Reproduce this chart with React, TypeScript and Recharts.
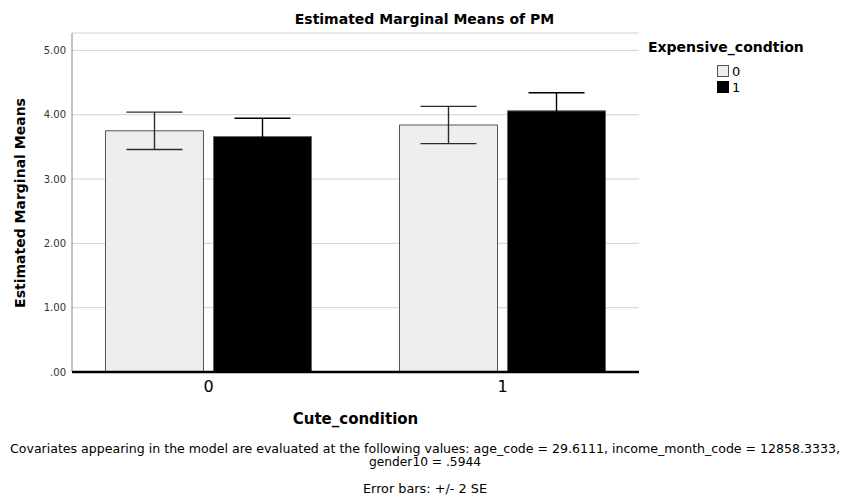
import { BarChart, Bar, XAxis, YAxis, CartesianGrid, ErrorBar } from "recharts"

const categories = ["0", "1"]
const expensive0 = [3.75, 3.84]
const expensive1 = [3.66, 4.06]
// error bars: +/- 2 SE
const err0 = [0.29, 0.29]
const err1 = [0.285, 0.28]
const yTicks = [0, 1, 2, 3, 4, 5]

const data = categories.map((c, i) => ({
    cute: c,
    e0: expensive0[i],
    e1: expensive1[i],
    err0: err0[i],
    err1: err1[i],
}))

const boldFont = "'DejaVu Sans', sans-serif"
const narrowFont = "'Liberation Sans Narrow', 'DejaVu Sans Condensed', 'Liberation Sans', sans-serif"

export default function App() {
    return (
        <div style={{ position: "absolute", left: 0, top: 0, width: 842, height: 496, background: "#fff" }}>
            <BarChart
                width={842}
                height={496}
                data={data}
                margin={{ top: 33, right: 203, bottom: 94, left: 12 }}
                barSize={98}
                barGap={10}
            >
                <CartesianGrid vertical={false} stroke="#d2d2d2" strokeWidth={1} />
                <YAxis
                    width={60}
                    domain={[0, 5.27]}
                    ticks={yTicks}
                    interval={0}
                    tickFormatter={(v: number) => (v === 0 ? ".00" : v.toFixed(2))}
                    tick={{ fontSize: 10, fill: "#333", fontFamily: boldFont }}
                    tickLine={false}
                    tickSize={0}
                    tickMargin={6}
                    axisLine={{ stroke: "#888", strokeWidth: 1 }}
                />
                <XAxis
                    dataKey="cute"
                    height={30}
                    padding={{ left: -10.5, right: -10.5 }}
                    tick={{ fontSize: 16, fill: "#000", fontFamily: boldFont }}
                    tickLine={false}
                    tickSize={0}
                    tickMargin={9}
                    axisLine={{ stroke: "#000", strokeWidth: 2.5 }}
                />
                <Bar dataKey="e0" fill="#eeeeee" stroke="#555" strokeWidth={1} isAnimationActive={false}>
                    <ErrorBar dataKey="err0" width={28} stroke="#2a2a2a" strokeWidth={1.4} direction="y" isAnimationActive={false} />
                </Bar>
                <Bar dataKey="e1" fill="#000" stroke="#666" strokeWidth={1} isAnimationActive={false}>
                    <ErrorBar dataKey="err1" width={28} stroke="#000" strokeWidth={1.4} direction="y" isAnimationActive={false} />
                </Bar>
            </BarChart>

            {/* titles, legend and notes */}
            <svg width={842} height={496} style={{ position: "absolute", left: 0, top: 0, pointerEvents: "none" }}>
                <text x={424.5} y={24} textAnchor="middle" fontFamily={boldFont} fontWeight="bold" fontSize={14} fill="#000">
                    Estimated Marginal Means of PM
                </text>
                <text
                    transform="translate(25,203) rotate(-90)"
                    textAnchor="middle"
                    fontFamily={boldFont}
                    fontWeight="bold"
                    fontSize={14}
                    fill="#000"
                >
                    Estimated Marginal Means
                </text>
                <text x={355.5} y={424} textAnchor="middle" fontFamily={boldFont} fontWeight="bold" fontSize={15} fill="#000">
                    Cute_condition
                </text>

                <text x={648} y={52} fontFamily={boldFont} fontWeight="bold" fontSize={14} fill="#000">
                    Expensive_condtion
                </text>
                <rect x={717.5} y={65.5} width={11} height={11} fill="#eeeeee" stroke="#555" strokeWidth={1} />
                <text x={732} y={76} fontFamily={boldFont} fontSize={13} fill="#000">0</text>
                <rect x={717} y={81} width={12} height={12} fill="#000" />
                <text x={732} y={92} fontFamily={boldFont} fontSize={13} fill="#000">1</text>

                <text
                    x={425}
                    y={453}
                    textAnchor="middle"
                    fontFamily={narrowFont}
                    fontSize={13}
                    fill="#000"
                    textLength={830}
                    lengthAdjust="spacingAndGlyphs"
                >
                    Covariates appearing in the model are evaluated at the following values: age_code = 29.6111, income_month_code = 12858.3333,
                </text>
                <text
                    x={425}
                    y={466}
                    textAnchor="middle"
                    fontFamily={narrowFont}
                    fontSize={13}
                    fill="#000"
                    textLength={112}
                    lengthAdjust="spacingAndGlyphs"
                >
                    gender10 = .5944
                </text>
                <text
                    x={425}
                    y={493}
                    textAnchor="middle"
                    fontFamily={narrowFont}
                    fontSize={13}
                    fill="#000"
                    textLength={124}
                    lengthAdjust="spacingAndGlyphs"
                >
                    Error bars: +/- 2 SE
                </text>
            </svg>
        </div>
    )
}
